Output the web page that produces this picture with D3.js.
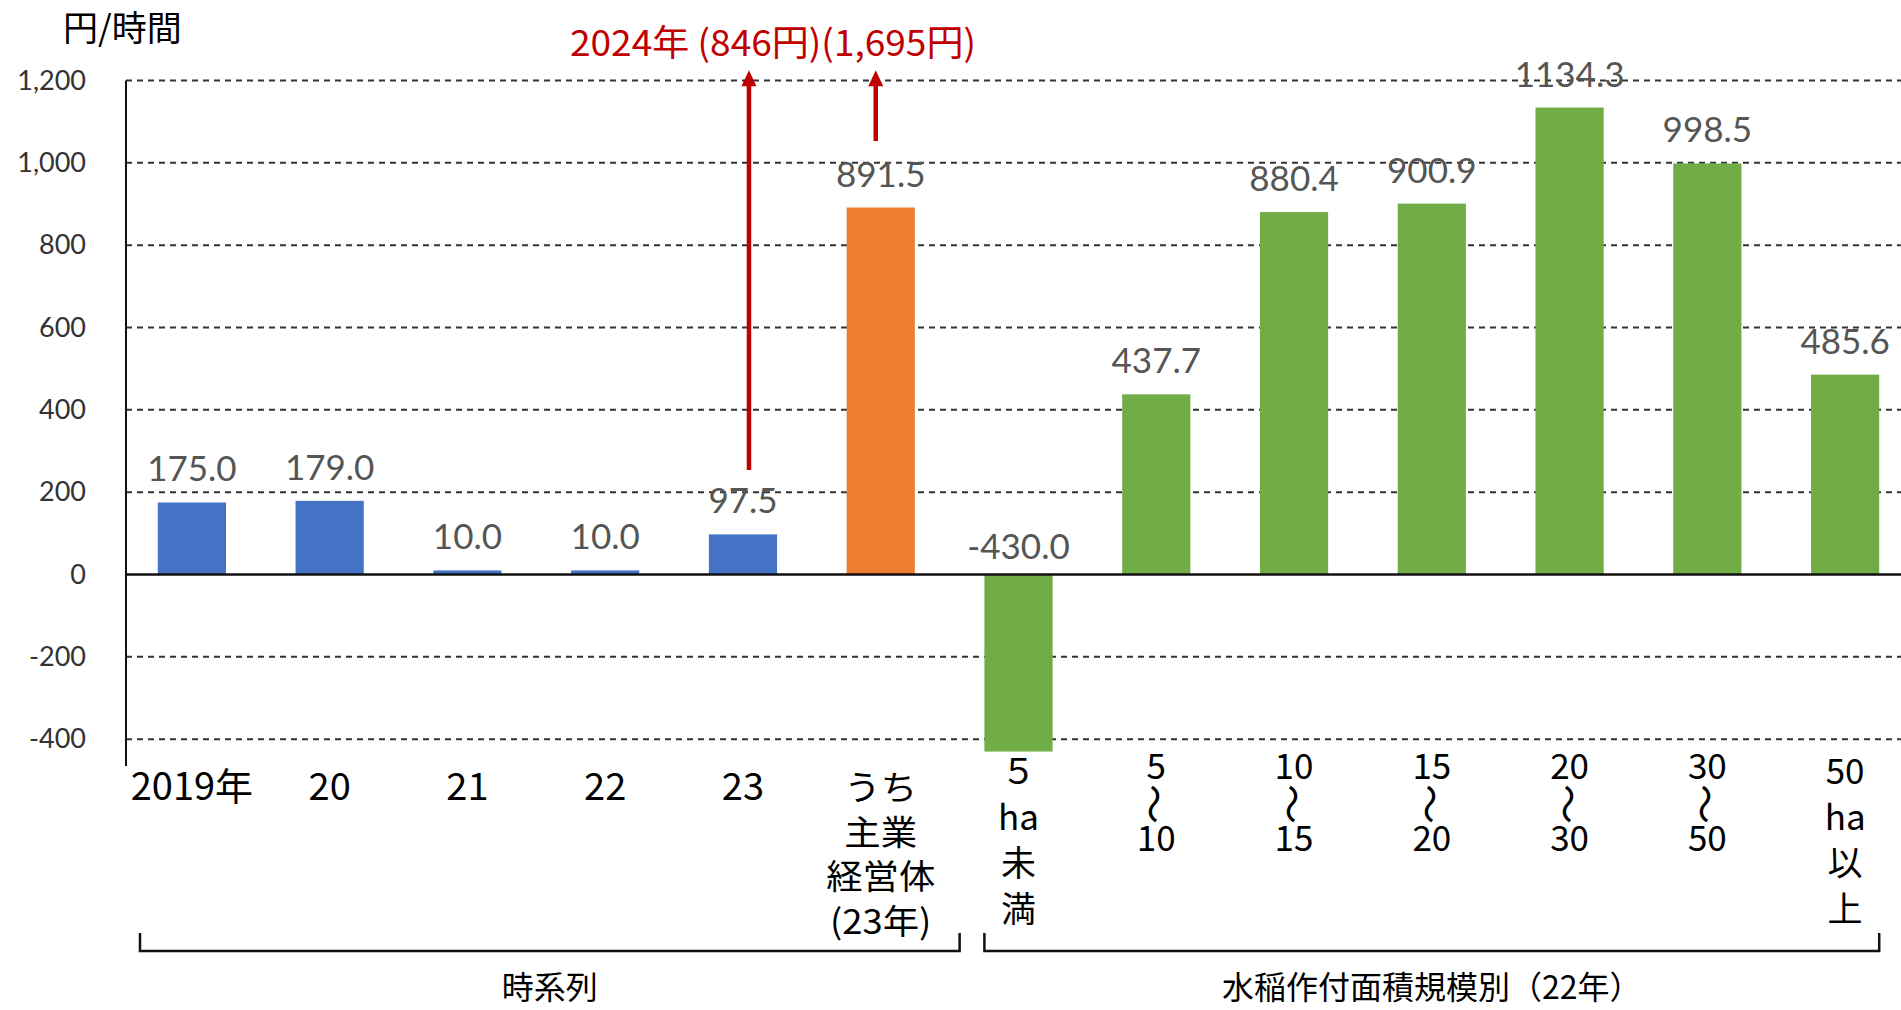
<!DOCTYPE html>
<html>
<head>
<meta charset="utf-8">
<script src="https://cdn.jsdelivr.net/npm/d3@7"></script>
<style>
  html, body { margin: 0; padding: 0; background: #fff; }
  svg { display: block; }
</style>
</head>
<body>
<div id="graph"></div>
<script>
// data
var tickLines = [
  ["2019年"], ["20"], ["21"], ["22"], ["23"],
  ["うち", "主業", "経営体", "(23年)"],
  ["５", "ha", "未", "満"],
  ["5", "～", "10"], ["10", "～", "15"], ["15", "～", "20"],
  ["20", "～", "30"], ["30", "～", "50"],
  ["50", "ha", "以", "上"]
];
var values = [175.0, 179.0, 10.0, 10.0, 97.5, 891.5, -430.0, 437.7, 880.4, 900.9, 1134.3, 998.5, 485.6];
var kinds = ["year", "year", "year", "year", "year", "main", "size", "size", "size", "size", "size", "size", "size"];
var groupNames = ["時系列", "水稲作付面積規模別（22年）"];
var groupMembers = [[0, 5], [6, 12]];
var yTicks = [-400, -200, 0, 200, 400, 600, 800, 1000, 1200];
var yTitle = "円/時間";
var note = "2024年 (846円)(1,695円)";
// arrow start values and tip value for the 2024 note
var arrowFrom = [254, 1053];
var arrowTip = 1225;
var arrowBars = [4, 5];

var width = 1901, height = 1010;

var loc = d3.formatLocale({decimal: ".", thousands: ",", grouping: [3], currency: ["", ""], minus: "-"});
var fmtTick = loc.format(",");
var fmtVal = loc.format(".1f");

var color = d3.scaleOrdinal()
  .domain(["year", "main", "size"])
  .range(["#4472C4", "#ED7D31", "#70AD47"]);

var x = d3.scaleBand()
  .domain(d3.range(values.length))
  .range([123, 1914])
  .padding(0);

var y = d3.scaleLinear()
  .domain([-400, 1200])
  .range([739.2, 80.5]);

var bw = x.bandwidth() * 0.495;
var cx = function(i) { return x(i) + x.bandwidth() / 2; };

var svg = d3.select('#graph')
  .append('svg')
    .attr('width', width)
    .attr('height', height);

svg.append('rect').attr('width', width).attr('height', height).attr('fill', '#fff');

// dashed gridlines
svg.append('g')
  .selectAll('line')
  .data(yTicks.filter(function(d) { return d !== 0; }))
  .enter()
  .append('line')
    .attr('x1', 126).attr('x2', width)
    .attr('y1', function(d) { return y(d); })
    .attr('y2', function(d) { return y(d); })
    .attr('stroke', '#333')
    .attr('stroke-width', 2)
    .attr('stroke-dasharray', '6,5');

// y axis labels
var yAxis = svg.append('g')
  .attr('transform', 'translate(126,0)')
  .call(d3.axisLeft(y).tickValues(yTicks).tickSize(0).tickPadding(40).tickFormat(fmtTick));
yAxis.select('.domain').remove();
yAxis.selectAll('text')
  .attr('font-family', 'Lato, sans-serif')
  .attr('font-size', 27)
  .attr('fill', '#333');

// bars
svg.append('g')
  .selectAll('rect')
  .data(values)
  .enter()
  .append('rect')
    .attr('x', function(d, i) { return cx(i) - bw / 2; })
    .attr('y', function(d) { return y(Math.max(0, d)); })
    .attr('width', bw)
    .attr('height', function(d) { return Math.abs(y(d) - y(0)); })
    .attr('fill', function(d, i) { return color(kinds[i]); });

// zero line and y axis line
svg.append('line')
  .attr('x1', 126).attr('x2', width)
  .attr('y1', y(0)).attr('y2', y(0))
  .attr('stroke', '#111').attr('stroke-width', 2.5);
svg.append('line')
  .attr('x1', 126).attr('x2', 126)
  .attr('y1', y(1200)).attr('y2', 766)
  .attr('stroke', '#111').attr('stroke-width', 2);

// value labels
svg.append('g')
  .selectAll('text')
  .data(values)
  .enter()
  .append('text')
    .attr('x', function(d, i) { return cx(i); })
    .attr('y', function(d) { return d >= 0 ? y(d) - 21 : y(0) - 16; })
    .attr('text-anchor', 'middle')
    .attr('font-family', 'Lato, sans-serif')
    .attr('font-size', 35)
    .attr('fill', '#555')
    .text(function(d) { return fmtVal(d); });

// category labels
var catFont = '"Noto Sans CJK JP", sans-serif';
tickLines.forEach(function(lines, i) {
  var hasTilde = lines.indexOf("～") >= 0;
  var left = i <= 5;
  var base = left ? 800 : (hasTilde ? 779 : 784);
  var step = left ? 44.5 : (hasTilde ? 36 : 46);
  var size = left ? (lines.length > 1 ? 34 : 38) : 35;
  var g = svg.append('g');
  lines.forEach(function(t, k) {
    var yy = base + k * step;
    if (t === "～") {
      g.append('text')
        .attr('transform', 'translate(' + cx(i) + ',' + (yy - 11) + ') rotate(90)')
        .attr('text-anchor', 'middle')
        .attr('dominant-baseline', 'central')
        .attr('font-family', catFont)
        .attr('font-size', 40)
        .attr('fill', '#000')
        .text(t);
    } else {
      g.append('text')
        .attr('transform', 'translate(' + cx(i) + ',' + yy + ') scale(' + (size === 34 ? 1.07 : 1) + ',1)')
        .attr('text-anchor', 'middle')
        .attr('font-family', catFont)
        .attr('font-size', size)
        .attr('fill', '#000')
        .text(t);
    }
  });
});

// group brackets
var brackets = [
  [x(groupMembers[0][0]) + 17, x(groupMembers[0][1]) + x.bandwidth() + 10],
  [cx(groupMembers[1][0]) - bw / 2, cx(groupMembers[1][1]) + bw / 2]
];
brackets.forEach(function(b, j) {
  svg.append('path')
    .attr('d', 'M' + b[0] + ',933 L' + b[0] + ',951 L' + b[1] + ',951 L' + b[1] + ',933')
    .attr('fill', 'none')
    .attr('stroke', '#111')
    .attr('stroke-width', 2.5);
  svg.append('text')
    .attr('x', (b[0] + b[1]) / 2)
    .attr('y', 999)
    .attr('text-anchor', 'middle')
    .attr('font-family', catFont)
    .attr('font-size', 32)
    .attr('fill', '#000')
    .text(groupNames[j]);
});

// axis title
svg.append('text')
  .attr('x', 63)
  .attr('y', 41)
  .attr('font-family', catFont)
  .attr('font-size', 35)
  .attr('fill', '#000')
  .text(yTitle);

// red note with arrows
svg.append('text')
  .attr('x', 570)
  .attr('y', 56)
  .attr('font-family', catFont)
  .attr('font-size', 36)
  .attr('fill', '#C00000')
  .attr('textLength', 406)
  .attr('lengthAdjust', 'spacingAndGlyphs')
  .text(note);

var offs = [6, -5];
arrowBars.forEach(function(b, j) {
  var ax = cx(b) + offs[j];
  var tipY = y(arrowTip);
  svg.append('line')
    .attr('x1', ax).attr('x2', ax)
    .attr('y1', y(arrowFrom[j])).attr('y2', tipY + 14)
    .attr('stroke', '#C00000').attr('stroke-width', 4.5);
  svg.append('path')
    .attr('d', 'M' + (ax - 7.5) + ',' + (tipY + 16) + ' L' + ax + ',' + tipY + ' L' + (ax + 7.5) + ',' + (tipY + 16) + ' Z')
    .attr('fill', '#C00000');
});
</script>
</body>
</html>
